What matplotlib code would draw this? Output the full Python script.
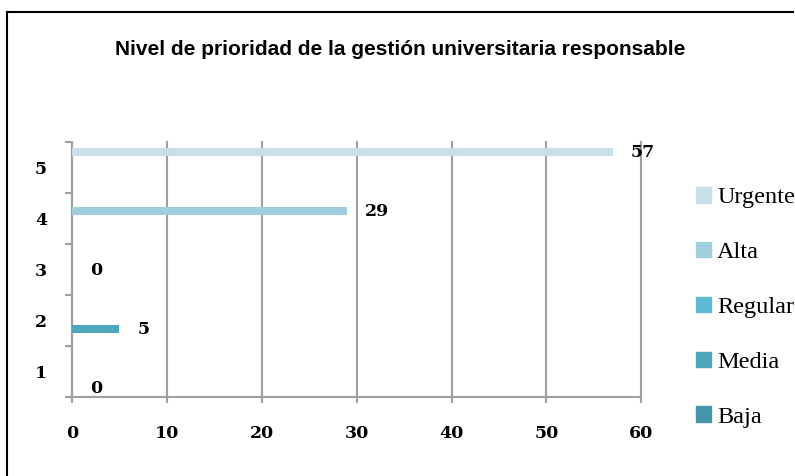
import matplotlib.pyplot as plt
from matplotlib.patches import Patch
from matplotlib.lines import Line2D

# Data
levels = [1, 2, 3, 4, 5]
series_names = ["Baja", "Media", "Regular", "Alta", "Urgente"]
series_values = [0, 5, 0, 29, 57]  # each series only has a value at its own level
series_colors = ["#4395A9", "#4FA7BF", "#5BB9D1", "#A0CEDC", "#C7DFE7"]
x_ticks = [0, 10, 20, 30, 40, 50, 60]

num_font = dict(family="DejaVu Serif", weight="bold", size=12.5)

fig = plt.figure(figsize=(7.95, 4.76), dpi=100)
ax = fig.add_axes([0.0906, 0.166, 0.716, 0.536])

slot = 0.156
bar_h = 0.147
for i, (name, lvl, val, col) in enumerate(zip(series_names, levels, series_values, series_colors)):
    y = lvl + (i - 2) * slot - 0.012
    ax.barh(y, val, height=bar_h, color=col, zorder=3)
    ax.annotate(str(val), xy=(val, y), xytext=(13, 0), textcoords="offset points",
                va="center", ha="left", zorder=4, **num_font)

ax.set_xlim(0, 60)
ax.set_ylim(0.5, 5.5)
ax.set_xticks(x_ticks)
ax.set_yticks([0.5, 1.5, 2.5, 3.5, 4.5, 5.5])
ax.set_yticklabels([])
ax.set_yticks(levels, minor=True)
ax.set_yticklabels([str(l) for l in levels], minor=True)
ax.tick_params(axis="y", which="minor", length=0, pad=18)
ax.tick_params(axis="y", which="major", length=5, width=1.5, color="#A0A0A0", direction="out")
ax.tick_params(axis="x", length=8, width=1.5, color="#A0A0A0", direction="inout", pad=16.5)
for lab in ax.get_xticklabels() + ax.get_yticklabels(minor=True):
    lab.set_fontfamily(num_font["family"])
    lab.set_fontweight(num_font["weight"])
    lab.set_fontsize(num_font["size"])

ax.grid(axis="x", color="#A0A0A0", linewidth=1.5, zorder=1)
for gl in ax.get_xgridlines():
    gl.set_clip_on(False)
for side in ["top", "right"]:
    ax.spines[side].set_visible(False)
for side in ["left", "bottom"]:
    ax.spines[side].set_color("#A0A0A0")
    ax.spines[side].set_linewidth(1.5)

fig.text(0.503, 0.897, "Nivel de prioridad de la gestión universitaria responsable",
         ha="center", va="center", fontsize=15, fontweight="bold", family="Liberation Sans")

handles = [Patch(color=c, label=n) for n, c in zip(series_names, series_colors)][::-1]
fig.legend(handles=handles, loc="upper left", bbox_to_anchor=(0.876, 0.607),
           frameon=False, borderpad=0, borderaxespad=0, handlelength=0.6, handleheight=0.6,
           handletextpad=0.25, labelspacing=1.38, prop={"family": "Liberation Serif", "size": 17.5})

# chart border (right and bottom cut off)
bx, by = 7 / 795, 1 - 12 / 476
fig.add_artist(Line2D([bx, bx], [by, 0], transform=fig.transFigure, color="black", linewidth=1.5))
fig.add_artist(Line2D([bx, 793 / 795], [by, by], transform=fig.transFigure, color="black", linewidth=1.5))

fig.savefig("out.png", dpi=100)
